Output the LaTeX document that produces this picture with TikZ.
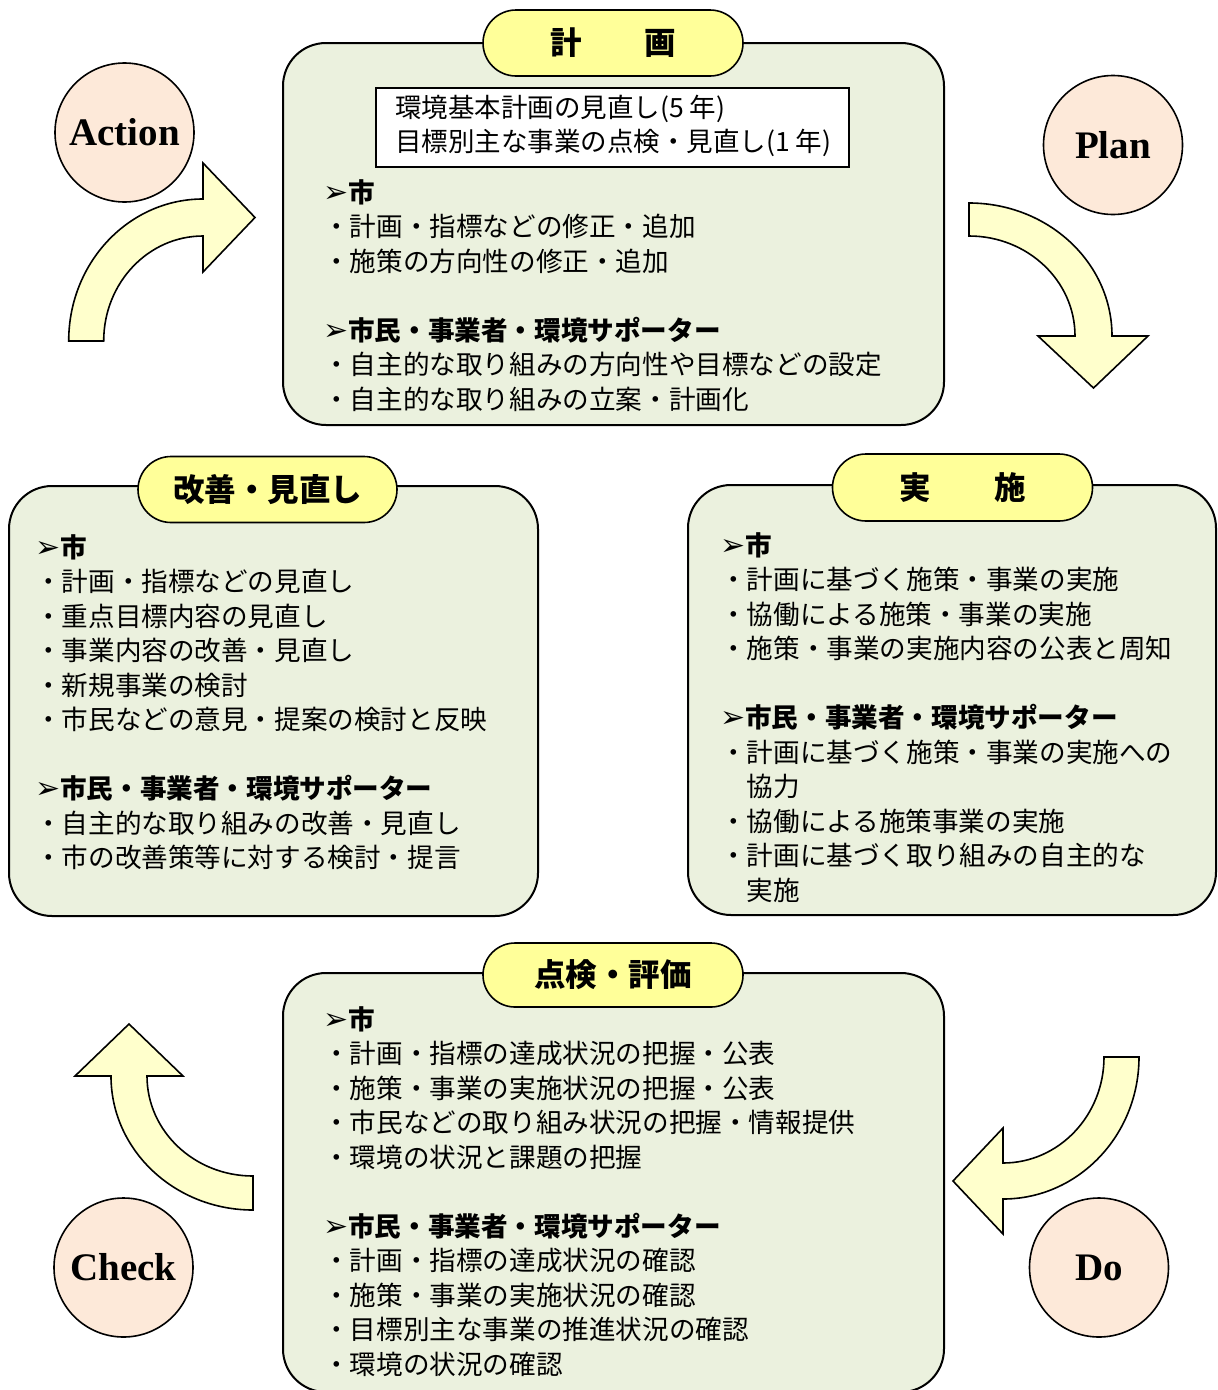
\documentclass[tikz,border=0pt]{standalone}
\usepackage{fontspec}
\usetikzlibrary{shapes.misc}
\newfontfamily\jp{Noto Sans CJK JP}
\newfontfamily\symf{DejaVu Sans}
\newfontfamily\romf{Liberation Serif}
\definecolor{boxgreen}{HTML}{EBF1DE}
\definecolor{pillyellow}{HTML}{FFFF99}
\definecolor{arrowyellow}{HTML}{FFFFCC}
\definecolor{peach}{HTML}{FDE9D9}
% heading marker in front of each group title
\newcommand\hd{\makebox[25pt][l]{\symf\fontsize{30}{30}\selectfont ➢}}
\begin{document}
\begin{tikzpicture}[x=1pt,y=-1pt,
  box/.style={draw, line width=2pt, fill=boxgreen, rounded corners=43pt, inner sep=0pt},
  pill/.style={rounded rectangle, draw, line width=1.6pt, fill=pillyellow, minimum width=260pt,
    minimum height=66pt, inner sep=0pt, font=\jp\bfseries\fontsize{31.5}{36}\selectfont},
  stage/.style={circle, draw, line width=1.6pt, fill=peach, minimum size=139pt, inner sep=0pt,
    font=\romf\bfseries\fontsize{39}{39}\selectfont},
  body/.style={anchor=north west, inner sep=0pt, align=left, font=\jp\fontsize{26.6}{34.5}\selectfont},
  flow/.style={draw, line width=1.6pt, fill=arrowyellow, line join=miter}]
\useasboundingbox (0,0) rectangle (1218,1390);

% stage boxes
\node[box, minimum width=661pt, minimum height=382pt] (planbox) at (613.5,234) {};
\node[box, minimum width=529pt, minimum height=430pt] (actbox) at (273.5,701) {};
\node[box, minimum width=528pt, minimum height=430pt] (dobox) at (952,700) {};
\node[box, minimum width=661pt, minimum height=419pt] (chkbox) at (613.5,1182.5) {};

% review cycle note
\node[draw, fill=white, line width=1.6pt, minimum width=473pt, minimum height=79pt, inner sep=0pt] (cyclebox) at (612.5,127.5) {};
\node[anchor=north west, inner sep=0pt, align=left, font=\jp\fontsize{26.5}{34}\selectfont] (cycletext) at (395,93.3)
  {\strut 環境基本計画の見直し(5 年)\\目標別主な事業の点検・見直し(1 年)};

% titles
\node[pill] (tplan) at (613,43) {計　　画};
\node[pill, minimum width=259pt] (tact) at (267.5,489.5) {改善・見直し};
\node[pill, minimum height=67pt] (tdo) at (962.5,487.5) {実　　施};
\node[pill, minimum height=64pt] (tchk) at (613,975) {点検・評価};

% box contents
\node[body] (plantext) at (323,178) {\strut\hd\textbf{市}\\
・計画・指標などの修正・追加\\
・施策の方向性の修正・追加\\[34.5pt]
\hd\textbf{市民・事業者・環境サポーター}\\
・自主的な取り組みの方向性や目標などの設定\\
・自主的な取り組みの立案・計画化};

\node[body] (acttext) at (35,533) {\strut\hd\textbf{市}\\
・計画・指標などの見直し\\
・重点目標内容の見直し\\
・事業内容の改善・見直し\\
・新規事業の検討\\
・市民などの意見・提案の検討と反映\\[34.5pt]
\hd\textbf{市民・事業者・環境サポーター}\\
・自主的な取り組みの改善・見直し\\
・市の改善策等に対する検討・提言};

\node[body] (dotext) at (720,531) {\strut\hd\textbf{市}\\
・計画に基づく施策・事業の実施\\
・協働による施策・事業の実施\\
・施策・事業の実施内容の公表と周知\\[34.5pt]
\hd\textbf{市民・事業者・環境サポーター}\\
・計画に基づく施策・事業の実施への\\
　協力\\
・協働による施策事業の実施\\
・計画に基づく取り組みの自主的な\\
　実施};

\node[body] (chktext) at (323,1005) {\strut\hd\textbf{市}\\
・計画・指標の達成状況の把握・公表\\
・施策・事業の実施状況の把握・公表\\
・市民などの取り組み状況の把握・情報提供\\
・環境の状況と課題の把握\\[34.5pt]
\hd\textbf{市民・事業者・環境サポーター}\\
・計画・指標の達成状況の確認\\
・施策・事業の実施状況の確認\\
・目標別主な事業の推進状況の確認\\
・環境の状況の確認};

% curved block arrows of the cycle
\draw[flow] (68.7,341) arc[start angle=180, end angle=90, x radius=134.3pt, y radius=142pt]
  -- (203,163) -- (255,217.5) -- (203,272) -- (203,236)
  arc[start angle=90, end angle=180, x radius=99.3pt, y radius=105pt] -- cycle;
\draw[flow] (969,203) arc[start angle=90, end angle=0, x radius=143pt, y radius=133pt]
  -- (1148,336) -- (1093.5,388) -- (1038,336) -- (1075,336)
  arc[start angle=0, end angle=90, x radius=106pt, y radius=100pt] -- cycle;
\draw[flow] (253,1210) arc[start angle=270, end angle=180, x radius=142pt, y radius=134pt]
  -- (75,1076) -- (129,1024) -- (183,1076) -- (147,1076)
  arc[start angle=180, end angle=270, x radius=106pt, y radius=100pt] -- cycle;
\draw[flow] (1139,1057) arc[start angle=0, end angle=-90, x radius=136pt, y radius=142pt]
  -- (1003,1234) -- (953,1181) -- (1003,1128) -- (1003,1163)
  arc[start angle=-90, end angle=0, x radius=101pt, y radius=106pt] -- cycle;

% PDCA labels
\node[stage] (action) at (124.5,132.5) {Action};
\node[stage] (plan) at (1113,145) {Plan};
\node[stage] (check) at (123.5,1267.5) {Check};
\node[stage] (do) at (1099,1267.5) {Do};
\end{tikzpicture}
\end{document}
